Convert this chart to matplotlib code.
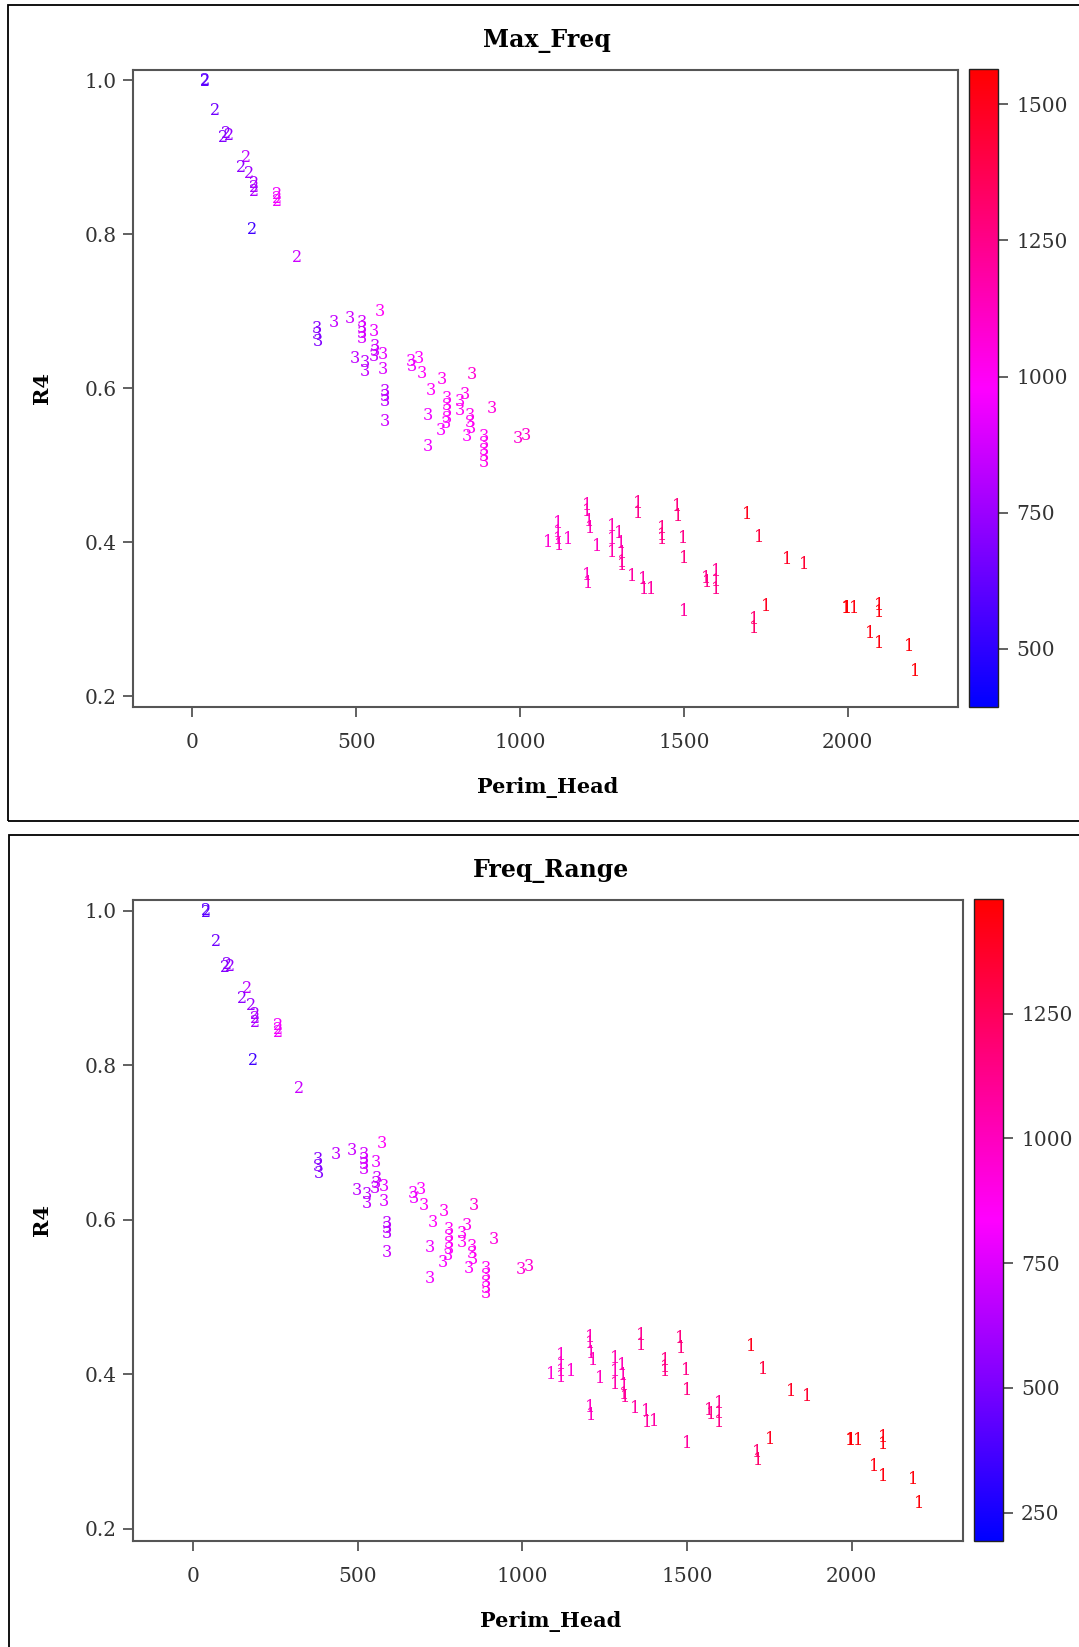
import matplotlib
matplotlib.use("Agg")
import matplotlib.pyplot as plt
from matplotlib.colors import LinearSegmentedColormap, Normalize
from matplotlib.cm import ScalarMappable
from matplotlib.patches import Rectangle

plt.rcParams['font.family'] = ['DejaVu Serif']

# cluster 2
perim2 = [38, 40, 69, 95, 104, 112, 163, 149, 174, 188, 188, 189, 257, 257, 257, 182, 320]
r4_2 = [1.000, 0.998, 0.960, 0.926, 0.931, 0.928, 0.900, 0.887, 0.878, 0.866, 0.860, 0.855,
        0.851, 0.846, 0.842, 0.806, 0.770]
maxf2 = [600, 610, 650, 690, 720, 740, 830, 720, 760, 780, 800, 790, 950, 960, 945, 540, 860]
rng2 = [420, 430, 475, 520, 550, 570, 670, 550, 595, 615, 640, 630, 805, 815, 800, 355, 705]

# cluster 3
perim3 = [380, 380, 382, 433, 481, 517, 517, 518, 518, 554, 573, 557, 556, 553, 580, 496, 527,
          527, 580, 667, 669, 692, 700, 761, 852, 728, 588, 588, 588, 588, 720, 776, 776, 776,
          776, 774, 758, 817, 817, 830, 847, 847, 849, 837, 913, 888, 888, 890, 888, 720, 888,
          994, 1019]
r4_3 = [0.678, 0.669, 0.660, 0.685, 0.690, 0.685, 0.678, 0.671, 0.665, 0.674, 0.699, 0.654,
        0.647, 0.641, 0.643, 0.638, 0.633, 0.621, 0.624, 0.634, 0.628, 0.639, 0.619, 0.611,
        0.618, 0.597, 0.595, 0.589, 0.582, 0.557, 0.564, 0.587, 0.578, 0.569, 0.561, 0.554,
        0.545, 0.582, 0.571, 0.592, 0.565, 0.556, 0.548, 0.537, 0.574, 0.537, 0.528, 0.519,
        0.511, 0.524, 0.504, 0.535, 0.539]
maxf3 = [700, 710, 690, 840, 860, 880, 900, 870, 890, 930, 1000, 860, 880, 850, 920, 830, 820,
         840, 900, 960, 940, 980, 1000, 1020, 1080, 990, 830, 840, 820, 860, 940, 1000, 990,
         1010, 980, 970, 960, 1000, 1010, 1030, 1020, 1000, 1010, 980, 1060, 1010, 1000, 1020,
         1000, 950, 1030, 1080, 1090]
rng3 = [530, 540, 520, 680, 705, 725, 750, 715, 740, 780, 860, 705, 725, 695, 770, 670, 660,
        680, 750, 815, 795, 840, 860, 880, 945, 850, 670, 680, 660, 705, 795, 860, 850, 870,
        840, 825, 815, 860, 870, 890, 880, 860, 870, 840, 925, 870, 860, 880, 860, 805, 890,
        945, 955]

# cluster 1
perim1 = [1086, 1117, 1117, 1117, 1118, 1147, 1204, 1206, 1210, 1215, 1235, 1205, 1207, 1281,
          1282, 1282, 1303, 1307, 1310, 1310, 1312, 1342, 1376, 1378, 1401, 1359, 1361, 1432,
          1432, 1432, 1479, 1481, 1498, 1501, 1501, 1567, 1572, 1597, 1597, 1598, 1693, 1730,
          1816, 1866, 1752, 1713, 1715, 1996, 1998, 2019, 2095, 2095, 2067, 2095, 2187, 2205]
r4_1 = [0.400, 0.424, 0.413, 0.403, 0.396, 0.403, 0.448, 0.440, 0.427, 0.418, 0.394, 0.357,
        0.346, 0.420, 0.403, 0.387, 0.411, 0.398, 0.385, 0.374, 0.370, 0.356, 0.352, 0.338,
        0.339, 0.450, 0.437, 0.418, 0.409, 0.403, 0.446, 0.433, 0.405, 0.379, 0.310, 0.353,
        0.348, 0.362, 0.349, 0.338, 0.436, 0.406, 0.378, 0.371, 0.316, 0.299, 0.288, 0.314,
        0.314, 0.314, 0.318, 0.309, 0.281, 0.268, 0.264, 0.232]
maxf1 = [1080, 1100, 1110, 1100, 1120, 1090, 1150, 1160, 1140, 1150, 1130, 1120, 1130, 1160,
         1150, 1170, 1150, 1160, 1180, 1200, 1210, 1190, 1180, 1200, 1190, 1230, 1240, 1260,
         1270, 1250, 1270, 1280, 1250, 1270, 1200, 1240, 1250, 1230, 1240, 1250, 1500, 1420,
         1480, 1450, 1490, 1300, 1320, 1540, 1550, 1530, 1520, 1530, 1520, 1530, 1540, 1545]
rng1 = [945, 970, 980, 970, 990, 955, 1020, 1035, 1010, 1020, 1000, 990, 1000, 1035, 1020,
        1045, 1020, 1035, 1055, 1080, 1090, 1065, 1055, 1080, 1065, 1110, 1120, 1145, 1155,
        1135, 1155, 1165, 1135, 1155, 1080, 1120, 1135, 1110, 1120, 1135, 1410, 1320, 1385,
        1355, 1395, 1190, 1210, 1450, 1460, 1440, 1430, 1440, 1430, 1440, 1450, 1455]

W, H = 1079, 1647
cmap = LinearSegmentedColormap.from_list("bmr", ["#0000ff", "#ff00ff", "#ff0000"])

fig = plt.figure(figsize=(W / 100, H / 100), dpi=100)


def box(x0, y0, x1, y1):
    # pixel box (top-left origin) -> figure fraction rect
    return [x0 / W, 1 - y1 / H, (x1 - x0) / W, (y1 - y0) / H]


def panel(ax_rect, cb_rect, col2, col3, col1, vmin, vmax, cticks, xlim, ylim):
    ax = fig.add_axes(box(*ax_rect))
    norm = Normalize(vmin, vmax)
    for xs, ys, cs, lab in [(perim2, r4_2, col2, "2"), (perim3, r4_3, col3, "3"),
                            (perim1, r4_1, col1, "1")]:
        for x, y, c in zip(xs, ys, cs):
            ax.text(x, y, lab, color=cmap(norm(c)), fontsize=11.5, ha="center", va="center")
    ax.set_xlim(*xlim)
    ax.set_ylim(*ylim)
    ax.set_xticks([0, 500, 1000, 1500, 2000])
    ax.set_yticks([0.2, 0.4, 0.6, 0.8, 1.0])
    ax.set_yticklabels(["0.2", "0.4", "0.6", "0.8", "1.0"])
    for s in ax.spines.values():
        s.set_color("#555555")
        s.set_linewidth(1.5)
    ax.tick_params(length=7, width=1.3, color="#555555", labelcolor="#333333",
                   labelsize=14.5, pad=5)
    ax.tick_params(axis="x", pad=12)

    cax = fig.add_axes(box(*cb_rect))
    cb = fig.colorbar(ScalarMappable(norm=norm, cmap=cmap), cax=cax, ticks=cticks)
    cb.outline.set_edgecolor("#222222")
    cb.outline.set_linewidth(1.0)
    cax.tick_params(length=7, width=1.3, color="#555555", labelcolor="#333333",
                    labelsize=14.5, pad=6)
    return ax


panel((133, 70, 958, 707), (969, 69, 998, 707), maxf2, maxf3, maxf1,
      393, 1565, [500, 750, 1000, 1250, 1500], (-181, 2336), (0.186, 1.013))
panel((133, 900, 963, 1541), (974, 899, 1003, 1541), rng2, rng3, rng1,
      193, 1480, [250, 500, 750, 1000, 1250], (-183, 2338), (0.184, 1.014))

# panel frames
fig.add_artist(Rectangle((8 / W, 1 - 821 / H), 1100 / W, 816 / H,
                         transform=fig.transFigure, fill=False, ec="black", lw=1.3))
fig.add_artist(Rectangle((9 / W, -0.05), 1100 / W, 1 - 835 / H + 0.05,
                         transform=fig.transFigure, fill=False, ec="black", lw=1.3))

# titles and axis labels
ttl = dict(fontsize=17, fontweight="bold", ha="center", va="center")
lab = dict(fontsize=15, fontweight="bold", ha="center", va="center")
fig.text(547 / W, 1 - 41 / H, "Max_Freq", **ttl)
fig.text(548 / W, 1 - 787 / H, "Perim_Head", **lab)
fig.text(42 / W, 1 - 388 / H, "R4", rotation=90, **lab)
fig.text(551 / W, 1 - 871 / H, "Freq_Range", **ttl)
fig.text(551 / W, 1 - 1621 / H, "Perim_Head", **lab)
fig.text(42 / W, 1 - 1220 / H, "R4", rotation=90, **lab)

fig.savefig("out.png", dpi=100)
